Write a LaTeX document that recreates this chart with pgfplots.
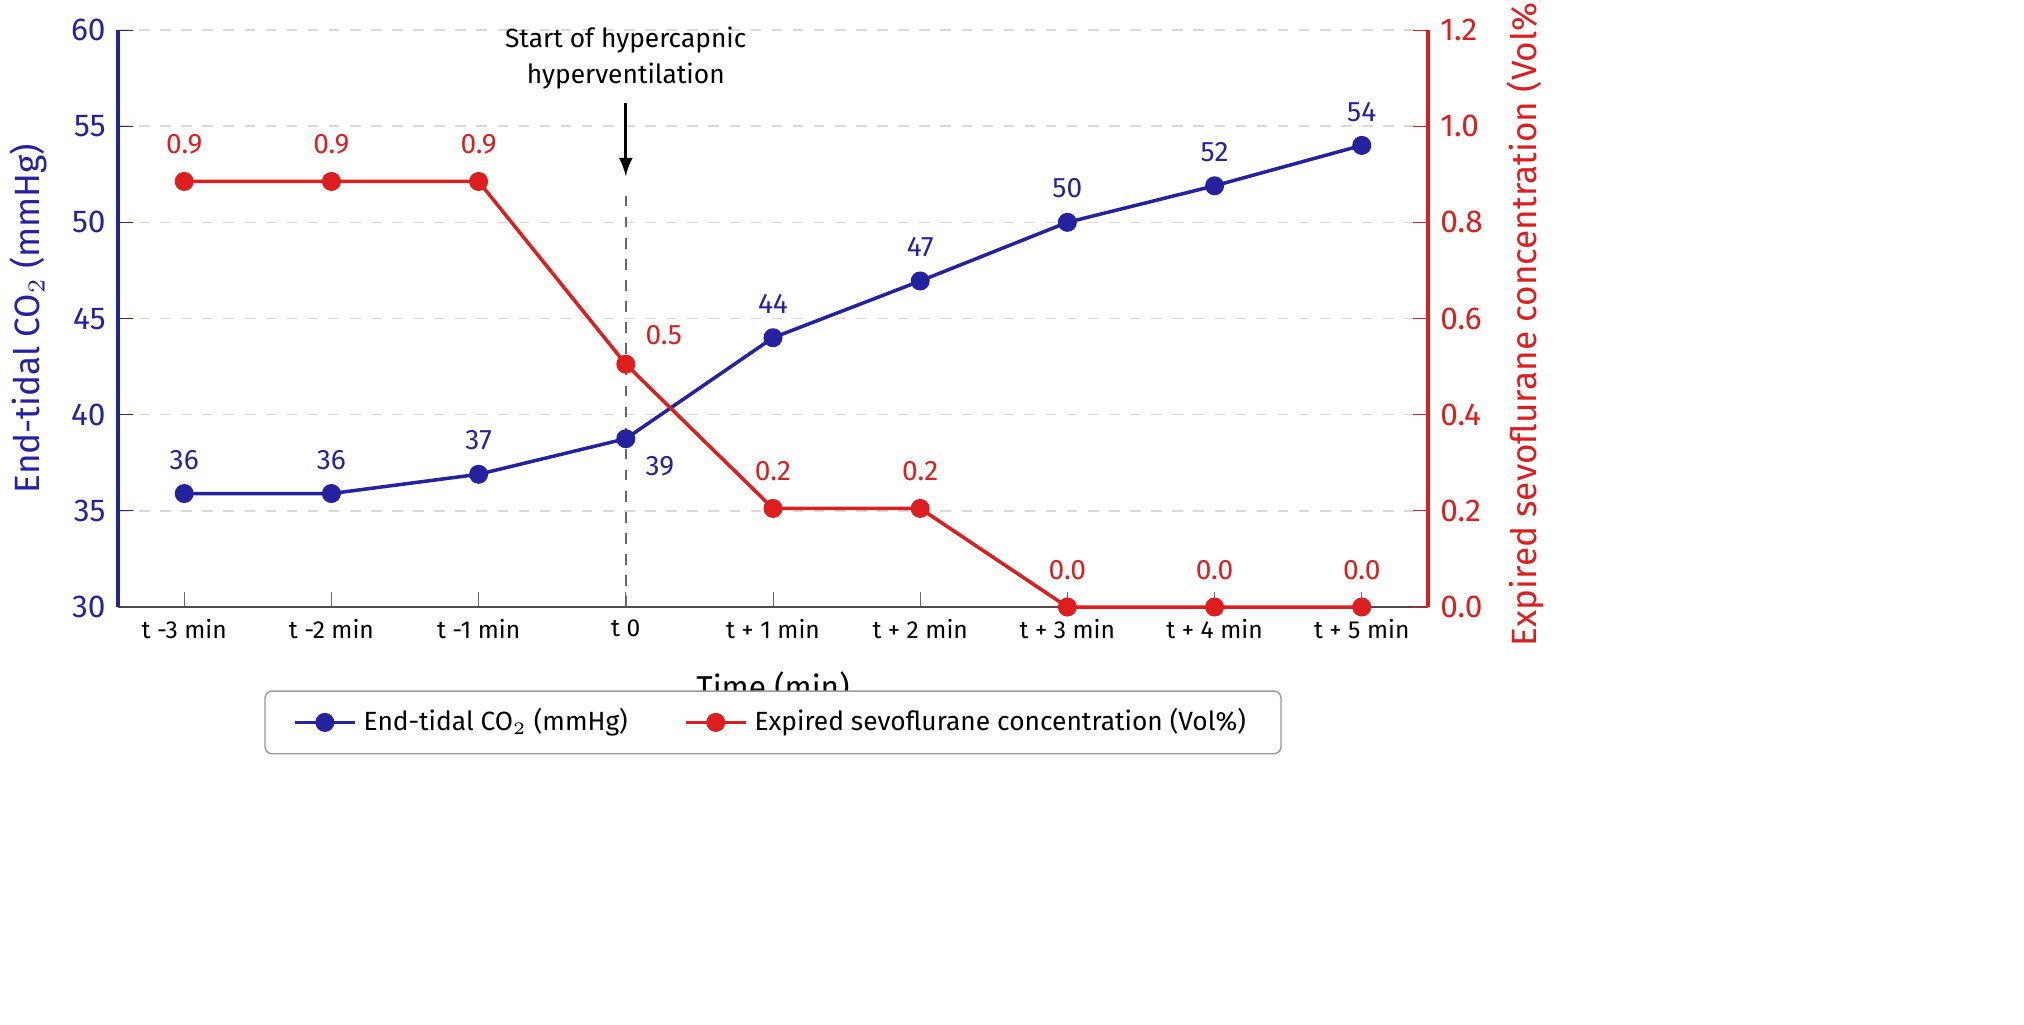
\documentclass[border=0pt]{standalone}
\usepackage{pgfplots}
\pgfplotsset{compat=1.18}
\usepackage{fontspec}
\setmainfont{Fira Sans}
\definecolor{cblue}{RGB}{35,35,160}
\definecolor{cred}{RGB}{220,30,30}
\begin{document}
\begin{tikzpicture}
\path[use as bounding box] (-11.8mm,-41.7mm) rectangle (190.6mm,60.7mm);
\begin{axis}[
  scale only axis, width=131mm, height=57.7mm,
  xmin=-0.45, xmax=8.45, ymin=30, ymax=60,
  xtick={0,...,8},
  xticklabels={t -3 min,t -2 min,t -1 min,t 0,t + 1 min,t + 2 min,t + 3 min,t + 4 min,t + 5 min},
  ytick={30,35,...,60},
  /pgf/number format/assume math mode=true,
  tick label style={font=\fontsize{7}{8}\selectfont},
  yticklabel style={font=\fontsize{9}{10}\selectfont, color=cblue},
  axis y line*=left, axis x line*=bottom,
  y axis line style={cblue, line width=1pt},
  x axis line style={black!70},
  ytick style={cblue}, xtick style={black!60},
  ymajorgrids, grid style={dashed, black!15},
  xlabel={Time (min)}, xlabel style={font=\fontsize{9}{10}\selectfont, at={(0.5,-0.14)}, anchor=center},
  ylabel={End-tidal CO$_2$ (mmHg)}, ylabel style={font=\fontsize{10}{12}\selectfont, color=cblue},
  clip=false,
]
\addplot[cblue, line width=1pt, mark=*, mark size=2.2pt,
  nodes near coords, point meta=explicit symbolic,
  nodes near coords style={font=\fontsize{8}{9}\selectfont, color=cblue, anchor=south, yshift=3pt}]
  coordinates {(0,35.9)[36] (1,35.9)[36] (2,36.9)[37] (3,38.75)[] (4,44)[44] (5,46.95)[47] (6,50)[50] (7,51.9)[52] (8,54)[54]};
\node[font=\fontsize{8}{9}\selectfont, color=cblue, anchor=north west] at (axis cs:3.05,38.5) {39};
\draw[dashed, black!60] (axis cs:3,30) -- (axis cs:3,51.8);
\draw[-latex, line width=0.8pt] (axis cs:3,56.2) -- (axis cs:3,52.4);
\node[font=\fontsize{7.5}{10}\selectfont, align=center, anchor=south] at (axis cs:3,56.3) {Start of hypercapnic\\hyperventilation};
\end{axis}
\begin{axis}[
  scale only axis, width=131mm, height=57.7mm,
  xmin=-0.45, xmax=8.45, ymin=0, ymax=1.2,
  ytick={0,0.2,...,1.2},
  yticklabel style={font=\fontsize{9}{10}\selectfont, color=cred, /pgf/number format/.cd, fixed, fixed zerofill, precision=1},
  /pgf/number format/assume math mode=true,
  axis y line*=right, axis x line=none,
  y axis line style={cred, line width=1pt}, ytick style={cred},
  ylabel={Expired sevoflurane concentration (Vol\%)},
  ylabel style={font=\fontsize{10}{12}\selectfont, color=cred},
  clip=false,
  legend style={at={(0.5,-0.2)}, anchor=center, legend columns=2, rounded corners=2pt,
    draw=black!40, font=\fontsize{7.5}{9}\selectfont, inner xsep=8pt, inner ysep=3pt,
    /tikz/every even column/.append style={column sep=14pt}},
]
\addlegendimage{cblue, line width=1pt, mark=*, mark size=2.2pt}
\addlegendentry{End-tidal CO$_2$ (mmHg)}
\addplot[cred, line width=1pt, mark=*, mark size=2.2pt,
  nodes near coords, point meta=explicit symbolic,
  nodes near coords style={font=\fontsize{8}{9}\selectfont, color=cred, anchor=south, yshift=4pt}]
  coordinates {(0,0.885)[0.9] (1,0.885)[0.9] (2,0.885)[0.9] (3,0.505)[] (4,0.205)[0.2] (5,0.205)[0.2] (6,0)[0.0] (7,0)[0.0] (8,0)[0.0]};
\addlegendentry{Expired sevoflurane concentration (Vol\%)}
\node[font=\fontsize{8}{9}\selectfont, color=cred, anchor=south west] at (axis cs:3.05,0.52) {0.5};
\end{axis}
\end{tikzpicture}
\end{document}
